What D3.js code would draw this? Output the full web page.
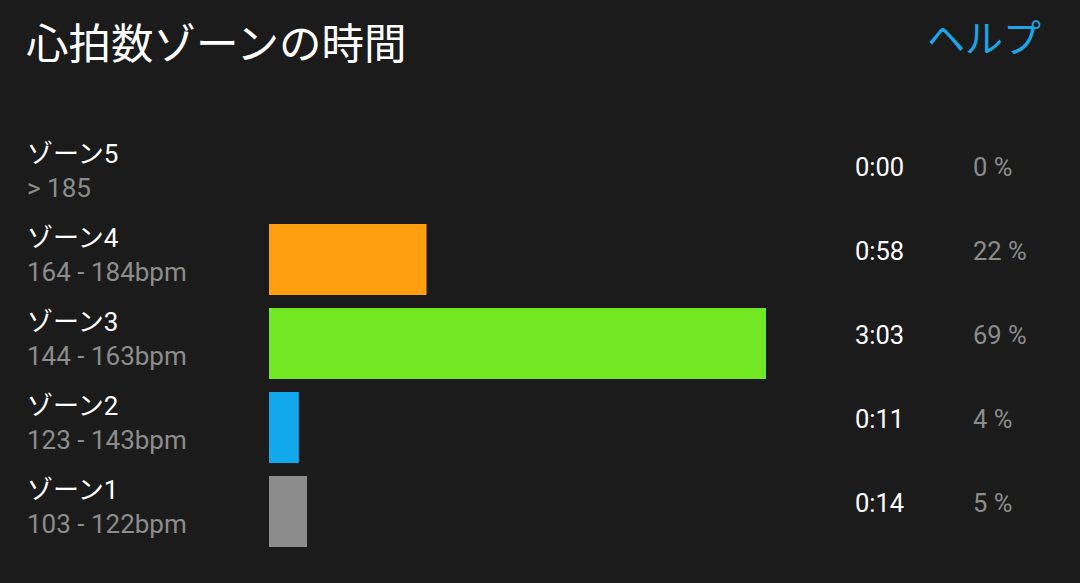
<!DOCTYPE html>
<html>
<head>
<meta charset="utf-8">
<script src="https://cdn.jsdelivr.net/npm/d3@7"></script>
<style>
  html, body { margin: 0; padding: 0; background: #1b1b1b; }
  svg { display: block; font-family: Roboto, "Noto Sans CJK JP", sans-serif; }
</style>
</head>
<body>
<svg id="chart" width="1080" height="583"></svg>
<script>
// chart data
const zones = ['ゾーン5', 'ゾーン4', 'ゾーン3', 'ゾーン2', 'ゾーン1'];
const ranges = ['> 185', '164 - 184bpm', '144 - 163bpm', '123 - 143bpm', '103 - 122bpm'];
const seconds = [0, 58, 183, 11, 14];
const times = ['0:00', '0:58', '3:03', '0:11', '0:14'];
const percents = ['0 %', '22 %', '69 %', '4 %', '5 %'];
const colors = ['#e8413c', '#ff9f0f', '#72e824', '#12a8ec', '#8c8c8c'];

const svg = d3.select('#chart');

svg.append('rect')
  .attr('width', 1080)
  .attr('height', 583)
  .attr('fill', '#1b1b1b');

svg.append('text')
  .attr('x', 26)
  .attr('y', 59)
  .attr('fill', '#ffffff')
  .attr('font-family', '"Noto Sans CJK JP", sans-serif')
  .attr('font-size', '42.5px')
  .text('心拍数ゾーンの時間');

svg.append('text')
  .attr('x', 1041)
  .attr('y', 52)
  .attr('text-anchor', 'end')
  .attr('fill', '#1ea5e6')
  .attr('font-family', '"Noto Sans CJK JP", sans-serif')
  .attr('font-size', '38px')
  .text('ヘルプ');

const y = d3.scaleBand()
  .domain(zones)
  .range([140, 547])
  .paddingInner(13 / 84)
  .paddingOuter(0);

const x = d3.scaleLinear()
  .domain([0, d3.max(seconds)])
  .range([269, 766]);

const rows = svg.selectAll('g.row')
  .data(zones)
  .enter()
  .append('g')
  .attr('class', 'row')
  .attr('transform', d => 'translate(0,' + y(d) + ')');

rows.append('rect')
  .attr('x', x(0))
  .attr('y', 0)
  .attr('width', (d, i) => x(seconds[i]) - x(0))
  .attr('height', y.bandwidth())
  .attr('fill', (d, i) => colors[i]);

rows.append('text')
  .attr('x', 27)
  .attr('y', 23)
  .attr('fill', '#ffffff')
  .attr('font-size', '26px')
  .text(d => d);

rows.append('text')
  .attr('x', 27)
  .attr('y', 57)
  .attr('fill', '#8c8c8c')
  .attr('font-size', '26px')
  .text((d, i) => ranges[i]);

rows.append('text')
  .attr('x', 855)
  .attr('y', 36)
  .attr('fill', '#ffffff')
  .attr('font-size', '25.5px')
  .text((d, i) => times[i]);

rows.append('text')
  .attr('x', 973)
  .attr('y', 36)
  .attr('fill', '#8c8c8c')
  .attr('font-size', '25.5px')
  .text((d, i) => percents[i]);
</script>
</body>
</html>
